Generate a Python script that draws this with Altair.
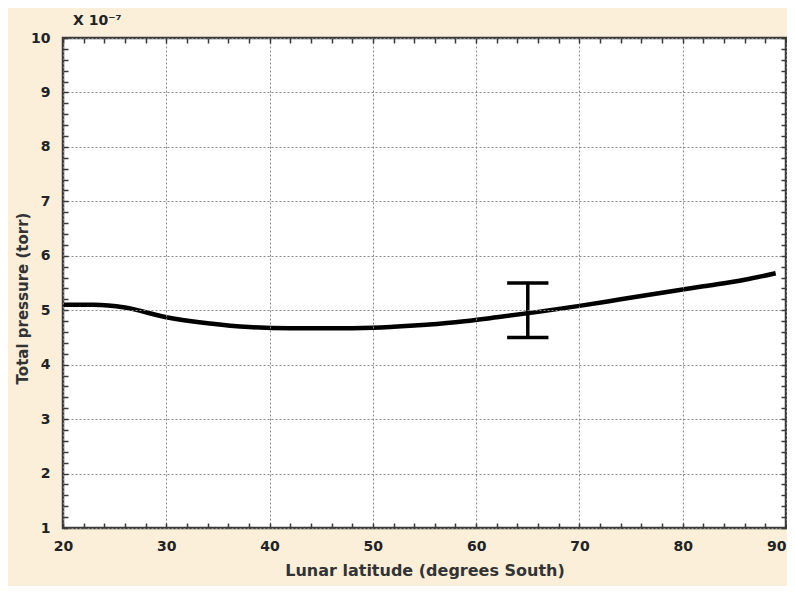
import altair as alt
import pandas as pd

# Data (pressure in units of 1e-7 torr)
lat = [20, 23, 26, 30, 34, 38, 42, 46, 50, 54, 58, 62, 66, 70, 74, 78, 82, 86, 89]
pressure = [5.1, 5.1, 5.05, 4.87, 4.76, 4.69, 4.67, 4.67, 4.68, 4.72, 4.78, 4.87, 4.97, 5.08, 5.2, 5.32, 5.44, 5.56, 5.68]

err_x = [65]
err_lo = [4.5]
err_hi = [5.5]
cap_x1 = [63]
cap_x2 = [67]

x_ticks = list(range(20, 91, 2))
y_ticks = [round(1 + 0.2 * i, 1) for i in range(46)]

FONT = "DejaVu Sans"
FRAME = "#3a3a3a"

curve = pd.DataFrame({"lat": lat, "p": pressure})
err = pd.DataFrame({"x": err_x, "lo": err_lo, "hi": err_hi, "x1": cap_x1, "x2": cap_x2})

xscale = alt.Scale(domain=[20, 90], nice=False)
yscale = alt.Scale(domain=[1, 10], nice=False)

xaxis = alt.Axis(
    title="Lunar latitude (degrees South)", values=x_ticks, tickCount=200,
    labelExpr="datum.value % 10 === 0 ? format(datum.value, 'd') : ''",
    labelOverlap=False, labelFlush=False,
    labelAlign={"condition": {"test": "datum.value >= 90", "value": "right"}, "value": "center"},
    offset=-5, tickSize=5, domain=False, labelPadding=11,
    grid=True, zindex=1,
    gridOpacity={"condition": {"test": "datum.value % 10 === 0", "value": 1}, "value": 0},
)
yaxis = alt.Axis(
    title="Total pressure (torr)", values=y_ticks, tickCount=200,
    labelExpr="abs(datum.value - round(datum.value)) < 0.01 ? format(datum.value, 'd') : ''",
    labelOverlap=False, labelFlush=False,
    offset=-5, tickSize=5, domain=False, labelPadding=13,
    titleY=260, titleX=-38,
    grid=True, zindex=1,
    gridOpacity={"condition": {"test": "abs(datum.value - round(datum.value)) < 0.01", "value": 1}, "value": 0},
)

line = alt.Chart(curve).mark_line(color="black", strokeWidth=4.5, interpolate="monotone").encode(
    x=alt.X("lat:Q", scale=xscale, axis=xaxis),
    y=alt.Y("p:Q", scale=yscale, axis=yaxis),
)

bar = alt.Chart(err).mark_rule(color="black", strokeWidth=3.5).encode(
    x=alt.X("x:Q", scale=xscale), y=alt.Y("lo:Q", scale=yscale), y2="hi:Q"
)
cap_lo = alt.Chart(err).mark_rule(color="black", strokeWidth=3.5).encode(
    x=alt.X("x1:Q", scale=xscale), x2="x2:Q", y=alt.Y("lo:Q", scale=yscale)
)
cap_hi = alt.Chart(err).mark_rule(color="black", strokeWidth=3.5).encode(
    x=alt.X("x1:Q", scale=xscale), x2="x2:Q", y=alt.Y("hi:Q", scale=yscale)
)

main = alt.layer(line, bar, cap_lo, cap_hi)

xaxis2 = alt.Axis(title=None, values=x_ticks, tickCount=200, labels=False, offset=-5, tickSize=5,
                  domain=False, grid=False, orient="top", zindex=1)
yaxis2 = alt.Axis(title=None, values=y_ticks, tickCount=200, labels=False, offset=-5, tickSize=5,
                  domain=False, grid=False, orient="right", zindex=1)
ticks = alt.Chart(curve).mark_point(opacity=0).encode(
    x=alt.X("lat:Q", scale=xscale, axis=xaxis2),
    y=alt.Y("p:Q", scale=yscale, axis=yaxis2),
)

chart = alt.layer(main, ticks).resolve_scale(x="independent", y="independent").properties(
    width=723, height=490,
    autosize=alt.AutoSizeParams(type="none"),
    padding={"left": 55, "top": 30, "right": 1, "bottom": 58},
    background="#FBEFD9",
    title=alt.TitleParams("X 10⁻⁷", anchor="start", frame="group", font=FONT, fontSize=14,
                          fontWeight="bold", color="#222", dx=10, offset=3),
).configure_view(
    fill="white", stroke=FRAME, strokeWidth=2.5
).configure_axis(
    labelFont=FONT, labelFontSize=14, labelFontWeight="bold", labelColor="#222",
    titleFont=FONT, titleFontSize=16, titleFontWeight="bold", titleColor="#333",
    tickColor=FRAME, tickWidth=1.5,
    gridColor="#888", gridDash=[2, 2], gridWidth=1,
).configure_axisX(titlePadding=9).configure_axisY(titleFontSize=15)

chart.save("out.html", embed_options={"renderer": "svg", "actions": False})
